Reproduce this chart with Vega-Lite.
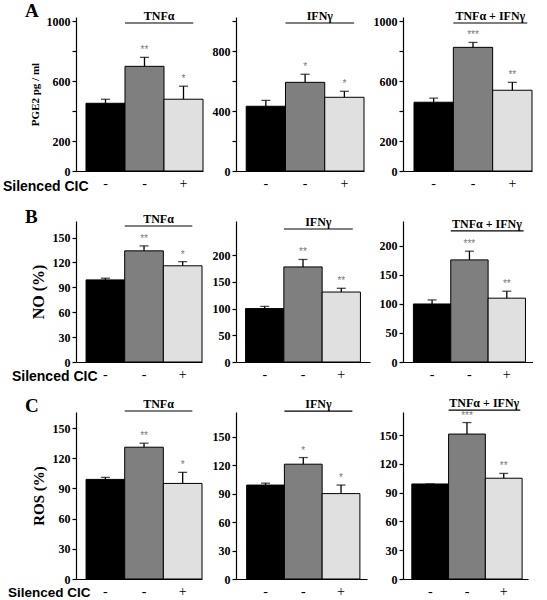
{
  "$schema": "https://vega.github.io/schema/vega-lite/v6.json",
  "padding": {"left": 2, "top": 2, "right": 0, "bottom": 0},
  "background": "white",
  "data": {"values": [
    {"panel": "A1", "cond": "ctrl", "value": 453, "upper": 480, "sig": "", "letter": "A"},
    {"panel": "A1", "cond": "cyt", "value": 700, "upper": 760, "sig": "**", "grp": "TNFα"},
    {"panel": "A1", "cond": "sil", "value": 480, "upper": 567, "sig": "*"},
    {"panel": "A2", "cond": "ctrl", "value": 433, "upper": 473, "sig": ""},
    {"panel": "A2", "cond": "cyt", "value": 593, "upper": 647, "sig": "*", "grp": "IFNγ"},
    {"panel": "A2", "cond": "sil", "value": 493, "upper": 533, "sig": "*"},
    {"panel": "A3", "cond": "ctrl", "value": 460, "upper": 487, "sig": ""},
    {"panel": "A3", "cond": "cyt", "value": 827, "upper": 860, "sig": "***", "grp": "TNFα + IFNγ"},
    {"panel": "A3", "cond": "sil", "value": 540, "upper": 593, "sig": "**"},
    {"panel": "B1", "cond": "ctrl", "value": 99, "upper": 101, "sig": "", "letter": "B"},
    {"panel": "B1", "cond": "cyt", "value": 134, "upper": 140, "sig": "**", "grp": "TNFα"},
    {"panel": "B1", "cond": "sil", "value": 116, "upper": 121, "sig": "*"},
    {"panel": "B2", "cond": "ctrl", "value": 100, "upper": 104, "sig": ""},
    {"panel": "B2", "cond": "cyt", "value": 178, "upper": 192, "sig": "**", "grp": "IFNγ"},
    {"panel": "B2", "cond": "sil", "value": 131, "upper": 138, "sig": "**"},
    {"panel": "B3", "cond": "ctrl", "value": 100, "upper": 107, "sig": ""},
    {"panel": "B3", "cond": "cyt", "value": 176, "upper": 191, "sig": "***", "grp": "TNFα + IFNγ"},
    {"panel": "B3", "cond": "sil", "value": 110, "upper": 122, "sig": "**"},
    {"panel": "C1", "cond": "ctrl", "value": 99, "upper": 101, "sig": "", "letter": "C"},
    {"panel": "C1", "cond": "cyt", "value": 131, "upper": 135, "sig": "**", "grp": "TNFα"},
    {"panel": "C1", "cond": "sil", "value": 95, "upper": 106, "sig": "*"},
    {"panel": "C2", "cond": "ctrl", "value": 99, "upper": 101, "sig": ""},
    {"panel": "C2", "cond": "cyt", "value": 121, "upper": 128, "sig": "*", "grp": "IFNγ"},
    {"panel": "C2", "cond": "sil", "value": 90, "upper": 99, "sig": "*"},
    {"panel": "C3", "cond": "ctrl", "value": 99, "upper": 99, "sig": ""},
    {"panel": "C3", "cond": "cyt", "value": 151, "upper": 163, "sig": "***", "grp": "TNFα + IFNγ"},
    {"panel": "C3", "cond": "sil", "value": 105, "upper": 110, "sig": "**"}
  ]},
  "bounds": "flush",
  "columns": 3,
  "spacing": {"row": 50, "column": 33},
  "concat": [
    {
      "width": 127, "height": 154,
      "transform": [{"filter": "datum.panel === 'A1'"}],
      "encoding": {"x": {"field": "cond", "type": "nominal", "sort": ["ctrl", "cyt", "sil"], "scale": {"paddingInner": 0, "paddingOuter": 0.128, "align": 1},
        "axis": {"labelExpr": "datum.value === 'sil' ? '+' : '-'", "title": "Silenced CIC", "titleFont": "Liberation Sans", "titleFontSize": 14, "titleFontWeight": "bold", "titleAlign": "right", "titleBaseline": "middle", "titleX": 12, "titleY": 15}}},
      "layer": [
        {"mark": {"type": "bar", "stroke": "black", "strokeWidth": 1},
         "encoding": {"y": {"field": "value", "type": "quantitative", "scale": {"domain": [0, 1030], "nice": false},
           "axis": {"values": [0, 200, 400, 600, 800, 1000], "format": "d", "tickCount": 10, "labelOverlap": false, "labelExpr": "datum.value == 400 || datum.value == 800 ? '' : datum.label", "title": "PGE2 pg / ml", "titleFontSize": 11}},
           "fill": {"field": "cond", "type": "nominal", "scale": {"domain": ["ctrl", "cyt", "sil"], "range": ["#000000", "#7f7f7f", "#e0e0e0"]}, "legend": null}}},
        {"mark": {"type": "rule", "strokeWidth": 1.3, "color": "black"}, "encoding": {"y": {"field": "value", "type": "quantitative"}, "y2": {"field": "upper"}}},
        {"mark": {"type": "tick", "thickness": 1.3, "size": 9, "color": "black", "orient": "horizontal"}, "encoding": {"y": {"field": "upper", "type": "quantitative"}}},
        {"mark": {"type": "text", "dy": -7, "fontSize": 10, "color": "#777777", "font": "Liberation Sans"}, "encoding": {"y": {"field": "upper", "type": "quantitative"}, "text": {"field": "sig"}}},
        {"transform": [{"filter": "datum.cond === 'cyt'"}], "mark": {"type": "rule", "strokeWidth": 1.2, "color": "black"},
         "encoding": {"x": {"field": "cond", "type": "nominal", "bandPosition": 0}, "x2": {"datum": "sil", "bandPosition": 0.75}, "y": {"datum": 990, "type": "quantitative"}}},
        {"transform": [{"filter": "datum.cond === 'cyt'"}], "mark": {"type": "text", "dy": -3, "font": "Liberation Serif", "fontWeight": "bold", "fontSize": 12, "baseline": "alphabetic"},
         "encoding": {"x": {"field": "cond", "type": "nominal", "bandPosition": 0.875}, "y": {"datum": 990, "type": "quantitative"}, "text": {"field": "grp"}}},
        {"transform": [{"filter": "datum.cond === 'ctrl'"}], "mark": {"type": "text", "dx": -61, "dy": 0, "align": "left", "baseline": "alphabetic", "font": "Liberation Serif", "fontWeight": "bold", "fontSize": 19},
         "encoding": {"x": {"field": "cond", "type": "nominal", "bandPosition": 0}, "y": {"datum": 1030, "type": "quantitative"}, "text": {"field": "letter"}}}
      ]
    },
    {
      "width": 128, "height": 154,
      "transform": [{"filter": "datum.panel === 'A2'"}],
      "encoding": {"x": {"field": "cond", "type": "nominal", "sort": ["ctrl", "cyt", "sil"], "scale": {"paddingInner": 0, "paddingOuter": 0.13, "align": 1},
        "axis": {"labelExpr": "datum.value === 'sil' ? '+' : '-'", "title": ""}}},
      "layer": [
        {"mark": {"type": "bar", "stroke": "black", "strokeWidth": 1},
         "encoding": {"y": {"field": "value", "type": "quantitative", "scale": {"domain": [0, 1030], "nice": false},
           "axis": {"values": [0, 200, 400, 600, 800, 1000], "format": "d", "tickCount": 10, "labelOverlap": false, "labelExpr": "datum.value % 400 == 0 ? datum.label : ''", "title": ""}},
           "fill": {"field": "cond", "type": "nominal", "scale": {"domain": ["ctrl", "cyt", "sil"], "range": ["#000000", "#7f7f7f", "#e0e0e0"]}, "legend": null}}},
        {"mark": {"type": "rule", "strokeWidth": 1.3, "color": "black"}, "encoding": {"y": {"field": "value", "type": "quantitative"}, "y2": {"field": "upper"}}},
        {"mark": {"type": "tick", "thickness": 1.3, "size": 9, "color": "black", "orient": "horizontal"}, "encoding": {"y": {"field": "upper", "type": "quantitative"}}},
        {"mark": {"type": "text", "dy": -7, "fontSize": 10, "color": "#777777", "font": "Liberation Sans"}, "encoding": {"y": {"field": "upper", "type": "quantitative"}, "text": {"field": "sig"}}},
        {"transform": [{"filter": "datum.cond === 'cyt'"}], "mark": {"type": "rule", "strokeWidth": 1.2, "color": "black"},
         "encoding": {"x": {"field": "cond", "type": "nominal", "bandPosition": 0}, "x2": {"datum": "sil", "bandPosition": 0.75}, "y": {"datum": 990, "type": "quantitative"}}},
        {"transform": [{"filter": "datum.cond === 'cyt'"}], "mark": {"type": "text", "dy": -3, "font": "Liberation Serif", "fontWeight": "bold", "fontSize": 12, "baseline": "alphabetic"},
         "encoding": {"x": {"field": "cond", "type": "nominal", "bandPosition": 0.875}, "y": {"datum": 990, "type": "quantitative"}, "text": {"field": "grp"}}}
      ]
    },
    {
      "width": 129, "height": 154,
      "transform": [{"filter": "datum.panel === 'A3'"}],
      "encoding": {"x": {"field": "cond", "type": "nominal", "sort": ["ctrl", "cyt", "sil"], "scale": {"paddingInner": 0, "paddingOuter": 0.14, "align": 1},
        "axis": {"labelExpr": "datum.value === 'sil' ? '+' : '-'", "title": ""}}},
      "layer": [
        {"mark": {"type": "bar", "stroke": "black", "strokeWidth": 1},
         "encoding": {"y": {"field": "value", "type": "quantitative", "scale": {"domain": [0, 1030], "nice": false},
           "axis": {"values": [0, 200, 400, 600, 800, 1000], "format": "d", "tickCount": 10, "labelOverlap": false, "labelExpr": "datum.value == 400 || datum.value == 800 ? '' : datum.label", "title": ""}},
           "fill": {"field": "cond", "type": "nominal", "scale": {"domain": ["ctrl", "cyt", "sil"], "range": ["#000000", "#7f7f7f", "#e0e0e0"]}, "legend": null}}},
        {"mark": {"type": "rule", "strokeWidth": 1.3, "color": "black"}, "encoding": {"y": {"field": "value", "type": "quantitative"}, "y2": {"field": "upper"}}},
        {"mark": {"type": "tick", "thickness": 1.3, "size": 9, "color": "black", "orient": "horizontal"}, "encoding": {"y": {"field": "upper", "type": "quantitative"}}},
        {"mark": {"type": "text", "dy": -7, "fontSize": 10, "color": "#777777", "font": "Liberation Sans"}, "encoding": {"y": {"field": "upper", "type": "quantitative"}, "text": {"field": "sig"}}},
        {"transform": [{"filter": "datum.cond === 'cyt'"}], "mark": {"type": "rule", "strokeWidth": 1.2, "color": "black"},
         "encoding": {"x": {"field": "cond", "type": "nominal", "bandPosition": 0}, "x2": {"datum": "sil", "bandPosition": 0.88}, "y": {"datum": 990, "type": "quantitative"}}},
        {"transform": [{"filter": "datum.cond === 'cyt'"}], "mark": {"type": "text", "dy": -3, "font": "Liberation Serif", "fontWeight": "bold", "fontSize": 12, "baseline": "alphabetic"},
         "encoding": {"x": {"field": "cond", "type": "nominal", "bandPosition": 0.94}, "y": {"datum": 990, "type": "quantitative"}, "text": {"field": "grp"}}}
      ]
    },
    {
      "width": 126, "height": 141,
      "transform": [{"filter": "datum.panel === 'B1'"}],
      "encoding": {"x": {"field": "cond", "type": "nominal", "sort": ["ctrl", "cyt", "sil"], "scale": {"paddingInner": 0, "paddingOuter": 0.13, "align": 1},
        "axis": {"labelExpr": "datum.value === 'sil' ? '+' : '-'", "title": "Silenced CIC", "titleFont": "Liberation Sans", "titleFontSize": 14, "titleFontWeight": "bold", "titleAlign": "right", "titleBaseline": "middle", "titleX": 21, "titleY": 14.5}}},
      "layer": [
        {"mark": {"type": "bar", "stroke": "black", "strokeWidth": 1},
         "encoding": {"y": {"field": "value", "type": "quantitative", "scale": {"domain": [0, 170], "nice": false},
           "axis": {"values": [0, 30, 60, 90, 120, 150], "tickCount": 10, "labelOverlap": false, "title": "NO (%)", "titleFontSize": 16}},
           "fill": {"field": "cond", "type": "nominal", "scale": {"domain": ["ctrl", "cyt", "sil"], "range": ["#000000", "#7f7f7f", "#e0e0e0"]}, "legend": null}}},
        {"mark": {"type": "rule", "strokeWidth": 1.3, "color": "black"}, "encoding": {"y": {"field": "value", "type": "quantitative"}, "y2": {"field": "upper"}}},
        {"mark": {"type": "tick", "thickness": 1.3, "size": 9, "color": "black", "orient": "horizontal"}, "encoding": {"y": {"field": "upper", "type": "quantitative"}}},
        {"mark": {"type": "text", "dy": -7, "fontSize": 10, "color": "#777777", "font": "Liberation Sans"}, "encoding": {"y": {"field": "upper", "type": "quantitative"}, "text": {"field": "sig"}}},
        {"transform": [{"filter": "datum.cond === 'cyt'"}], "mark": {"type": "rule", "strokeWidth": 1.2, "color": "black"},
         "encoding": {"x": {"field": "cond", "type": "nominal", "bandPosition": 0}, "x2": {"datum": "sil", "bandPosition": 0.75}, "y": {"datum": 164, "type": "quantitative"}}},
        {"transform": [{"filter": "datum.cond === 'cyt'"}], "mark": {"type": "text", "dy": -3, "font": "Liberation Serif", "fontWeight": "bold", "fontSize": 12, "baseline": "alphabetic"},
         "encoding": {"x": {"field": "cond", "type": "nominal", "bandPosition": 0.875}, "y": {"datum": 164, "type": "quantitative"}, "text": {"field": "grp"}}},
        {"transform": [{"filter": "datum.cond === 'ctrl'"}], "mark": {"type": "text", "dx": -61, "dy": 2, "align": "left", "baseline": "alphabetic", "font": "Liberation Serif", "fontWeight": "bold", "fontSize": 19},
         "encoding": {"x": {"field": "cond", "type": "nominal", "bandPosition": 0}, "y": {"datum": 170, "type": "quantitative"}, "text": {"field": "letter"}}}
      ]
    },
    {
      "width": 134, "height": 141,
      "transform": [{"filter": "datum.panel === 'B2'"}],
      "encoding": {"x": {"field": "cond", "type": "nominal", "sort": ["ctrl", "cyt", "sil"], "scale": {"paddingInner": 0, "paddingOuter": 0.25, "align": 0.5},
        "axis": {"labelExpr": "datum.value === 'sil' ? '+' : '-'", "title": ""}}},
      "layer": [
        {"mark": {"type": "bar", "stroke": "black", "strokeWidth": 1},
         "encoding": {"y": {"field": "value", "type": "quantitative", "scale": {"domain": [0, 264], "nice": false},
           "axis": {"values": [0, 50, 100, 150, 200], "tickCount": 10, "labelOverlap": false, "title": ""}},
           "fill": {"field": "cond", "type": "nominal", "scale": {"domain": ["ctrl", "cyt", "sil"], "range": ["#000000", "#7f7f7f", "#e0e0e0"]}, "legend": null}}},
        {"mark": {"type": "rule", "strokeWidth": 1.3, "color": "black"}, "encoding": {"y": {"field": "value", "type": "quantitative"}, "y2": {"field": "upper"}}},
        {"mark": {"type": "tick", "thickness": 1.3, "size": 9, "color": "black", "orient": "horizontal"}, "encoding": {"y": {"field": "upper", "type": "quantitative"}}},
        {"mark": {"type": "text", "dy": -7, "fontSize": 10, "color": "#777777", "font": "Liberation Sans"}, "encoding": {"y": {"field": "upper", "type": "quantitative"}, "text": {"field": "sig"}}},
        {"transform": [{"filter": "datum.cond === 'cyt'"}], "mark": {"type": "rule", "strokeWidth": 1.2, "color": "black"},
         "encoding": {"x": {"field": "cond", "type": "nominal", "bandPosition": 0}, "x2": {"datum": "sil", "bandPosition": 0.8}, "y": {"datum": 249, "type": "quantitative"}}},
        {"transform": [{"filter": "datum.cond === 'cyt'"}], "mark": {"type": "text", "dy": -3, "font": "Liberation Serif", "fontWeight": "bold", "fontSize": 12, "baseline": "alphabetic"},
         "encoding": {"x": {"field": "cond", "type": "nominal", "bandPosition": 0.9}, "y": {"datum": 249, "type": "quantitative"}, "text": {"field": "grp"}}}
      ]
    },
    {
      "width": 130, "height": 141,
      "transform": [{"filter": "datum.panel === 'B3'"}],
      "encoding": {"x": {"field": "cond", "type": "nominal", "sort": ["ctrl", "cyt", "sil"], "scale": {"paddingInner": 0, "paddingOuter": 0.24, "align": 0.58},
        "axis": {"labelExpr": "datum.value === 'sil' ? '+' : '-'", "title": ""}}},
      "layer": [
        {"mark": {"type": "bar", "stroke": "black", "strokeWidth": 1},
         "encoding": {"y": {"field": "value", "type": "quantitative", "scale": {"domain": [0, 243], "nice": false},
           "axis": {"values": [0, 50, 100, 150, 200], "tickCount": 10, "labelOverlap": false, "title": ""}},
           "fill": {"field": "cond", "type": "nominal", "scale": {"domain": ["ctrl", "cyt", "sil"], "range": ["#000000", "#7f7f7f", "#e0e0e0"]}, "legend": null}}},
        {"mark": {"type": "rule", "strokeWidth": 1.3, "color": "black"}, "encoding": {"y": {"field": "value", "type": "quantitative"}, "y2": {"field": "upper"}}},
        {"mark": {"type": "tick", "thickness": 1.3, "size": 9, "color": "black", "orient": "horizontal"}, "encoding": {"y": {"field": "upper", "type": "quantitative"}}},
        {"mark": {"type": "text", "dy": -7, "fontSize": 10, "color": "#777777", "font": "Liberation Sans"}, "encoding": {"y": {"field": "upper", "type": "quantitative"}, "text": {"field": "sig"}}},
        {"transform": [{"filter": "datum.cond === 'cyt'"}], "mark": {"type": "rule", "strokeWidth": 1.2, "color": "black"},
         "encoding": {"x": {"field": "cond", "type": "nominal", "bandPosition": 0}, "x2": {"datum": "sil", "bandPosition": 0.95}, "y": {"datum": 226, "type": "quantitative"}}},
        {"transform": [{"filter": "datum.cond === 'cyt'"}], "mark": {"type": "text", "dy": -3, "font": "Liberation Serif", "fontWeight": "bold", "fontSize": 12, "baseline": "alphabetic"},
         "encoding": {"x": {"field": "cond", "type": "nominal", "bandPosition": 0.97}, "y": {"datum": 226, "type": "quantitative"}, "text": {"field": "grp"}}}
      ]
    },
    {
      "width": 126, "height": 167,
      "transform": [{"filter": "datum.panel === 'C1'"}],
      "encoding": {"x": {"field": "cond", "type": "nominal", "sort": ["ctrl", "cyt", "sil"], "scale": {"paddingInner": 0, "paddingOuter": 0.13, "align": 1},
        "axis": {"labelExpr": "datum.value === 'sil' ? '+' : '-'", "title": "Silenced CIC", "titleFont": "Liberation Sans", "titleFontSize": 13.5, "titleFontWeight": "bold", "titleAlign": "right", "titleBaseline": "middle", "titleX": 14, "titleY": 13.5}}},
      "layer": [
        {"mark": {"type": "bar", "stroke": "black", "strokeWidth": 1},
         "encoding": {"y": {"field": "value", "type": "quantitative", "scale": {"domain": [0, 166], "nice": false},
           "axis": {"values": [0, 30, 60, 90, 120, 150], "tickCount": 10, "labelOverlap": false, "title": "ROS (%)", "titleFontSize": 15}},
           "fill": {"field": "cond", "type": "nominal", "scale": {"domain": ["ctrl", "cyt", "sil"], "range": ["#000000", "#7f7f7f", "#e0e0e0"]}, "legend": null}}},
        {"mark": {"type": "rule", "strokeWidth": 1.3, "color": "black"}, "encoding": {"y": {"field": "value", "type": "quantitative"}, "y2": {"field": "upper"}}},
        {"mark": {"type": "tick", "thickness": 1.3, "size": 9, "color": "black", "orient": "horizontal"}, "encoding": {"y": {"field": "upper", "type": "quantitative"}}},
        {"mark": {"type": "text", "dy": -7, "fontSize": 10, "color": "#777777", "font": "Liberation Sans"}, "encoding": {"y": {"field": "upper", "type": "quantitative"}, "text": {"field": "sig"}}},
        {"transform": [{"filter": "datum.cond === 'cyt'"}], "mark": {"type": "rule", "strokeWidth": 1.2, "color": "black"},
         "encoding": {"x": {"field": "cond", "type": "nominal", "bandPosition": 0}, "x2": {"datum": "sil", "bandPosition": 0.75}, "y": {"datum": 167, "type": "quantitative"}}},
        {"transform": [{"filter": "datum.cond === 'cyt'"}], "mark": {"type": "text", "dy": -3, "font": "Liberation Serif", "fontWeight": "bold", "fontSize": 12, "baseline": "alphabetic"},
         "encoding": {"x": {"field": "cond", "type": "nominal", "bandPosition": 0.875}, "y": {"datum": 167, "type": "quantitative"}, "text": {"field": "grp"}}},
        {"transform": [{"filter": "datum.cond === 'ctrl'"}], "mark": {"type": "text", "dx": -61, "dy": 0, "align": "left", "baseline": "alphabetic", "font": "Liberation Serif", "fontWeight": "bold", "fontSize": 19},
         "encoding": {"x": {"field": "cond", "type": "nominal", "bandPosition": 0}, "y": {"datum": 166, "type": "quantitative"}, "text": {"field": "letter"}}}
      ]
    },
    {
      "width": 131, "height": 167,
      "transform": [{"filter": "datum.panel === 'C2'"}],
      "encoding": {"x": {"field": "cond", "type": "nominal", "sort": ["ctrl", "cyt", "sil"], "scale": {"paddingInner": 0, "paddingOuter": 0.235, "align": 0.6},
        "axis": {"labelExpr": "datum.value === 'sil' ? '+' : '-'", "title": ""}}},
      "layer": [
        {"mark": {"type": "bar", "stroke": "black", "strokeWidth": 1},
         "encoding": {"y": {"field": "value", "type": "quantitative", "scale": {"domain": [0, 176], "nice": false},
           "axis": {"values": [0, 30, 60, 90, 120, 150], "tickCount": 10, "labelOverlap": false, "title": ""}},
           "fill": {"field": "cond", "type": "nominal", "scale": {"domain": ["ctrl", "cyt", "sil"], "range": ["#000000", "#7f7f7f", "#e0e0e0"]}, "legend": null}}},
        {"mark": {"type": "rule", "strokeWidth": 1.3, "color": "black"}, "encoding": {"y": {"field": "value", "type": "quantitative"}, "y2": {"field": "upper"}}},
        {"mark": {"type": "tick", "thickness": 1.3, "size": 9, "color": "black", "orient": "horizontal"}, "encoding": {"y": {"field": "upper", "type": "quantitative"}}},
        {"mark": {"type": "text", "dy": -7, "fontSize": 10, "color": "#777777", "font": "Liberation Sans"}, "encoding": {"y": {"field": "upper", "type": "quantitative"}, "text": {"field": "sig"}}},
        {"transform": [{"filter": "datum.cond === 'cyt'"}], "mark": {"type": "rule", "strokeWidth": 1.2, "color": "black"},
         "encoding": {"x": {"field": "cond", "type": "nominal", "bandPosition": 0}, "x2": {"datum": "sil", "bandPosition": 0.8}, "y": {"datum": 177, "type": "quantitative"}}},
        {"transform": [{"filter": "datum.cond === 'cyt'"}], "mark": {"type": "text", "dy": -3, "font": "Liberation Serif", "fontWeight": "bold", "fontSize": 12, "baseline": "alphabetic"},
         "encoding": {"x": {"field": "cond", "type": "nominal", "bandPosition": 0.9}, "y": {"datum": 177, "type": "quantitative"}, "text": {"field": "grp"}}}
      ]
    },
    {
      "width": 125, "height": 167,
      "transform": [{"filter": "datum.panel === 'C3'"}],
      "encoding": {"x": {"field": "cond", "type": "nominal", "sort": ["ctrl", "cyt", "sil"], "scale": {"paddingInner": 0, "paddingOuter": 0.2, "align": 0.6},
        "axis": {"labelExpr": "datum.value === 'sil' ? '+' : '-'", "title": ""}}},
      "layer": [
        {"mark": {"type": "bar", "stroke": "black", "strokeWidth": 1},
         "encoding": {"y": {"field": "value", "type": "quantitative", "scale": {"domain": [0, 174], "nice": false},
           "axis": {"values": [0, 30, 60, 90, 120, 150], "tickCount": 10, "labelOverlap": false, "title": ""}},
           "fill": {"field": "cond", "type": "nominal", "scale": {"domain": ["ctrl", "cyt", "sil"], "range": ["#000000", "#7f7f7f", "#e0e0e0"]}, "legend": null}}},
        {"mark": {"type": "rule", "strokeWidth": 1.3, "color": "black"}, "encoding": {"y": {"field": "value", "type": "quantitative"}, "y2": {"field": "upper"}}},
        {"mark": {"type": "tick", "thickness": 1.3, "size": 9, "color": "black", "orient": "horizontal"}, "encoding": {"y": {"field": "upper", "type": "quantitative"}}},
        {"mark": {"type": "text", "dy": -7, "fontSize": 10, "color": "#777777", "font": "Liberation Sans"}, "encoding": {"y": {"field": "upper", "type": "quantitative"}, "text": {"field": "sig"}}},
        {"transform": [{"filter": "datum.cond === 'cyt'"}], "mark": {"type": "rule", "strokeWidth": 1.2, "color": "black"},
         "encoding": {"x": {"field": "cond", "type": "nominal", "bandPosition": 0}, "x2": {"datum": "sil", "bandPosition": 0.95}, "y": {"datum": 176, "type": "quantitative"}}},
        {"transform": [{"filter": "datum.cond === 'cyt'"}], "mark": {"type": "text", "dy": -3, "font": "Liberation Serif", "fontWeight": "bold", "fontSize": 12, "baseline": "alphabetic"},
         "encoding": {"x": {"field": "cond", "type": "nominal", "bandPosition": 0.97}, "y": {"datum": 176, "type": "quantitative"}, "text": {"field": "grp"}}}
      ]
    }
  ],
  "config": {
    "view": {"stroke": null},
    "axis": {"grid": false, "labelOverlap": false, "domainColor": "black", "tickColor": "black", "labelColor": "black", "titleColor": "black", "labelFont": "Liberation Serif", "titleFont": "Liberation Serif", "labelFontWeight": "bold", "titleFontWeight": "bold", "domainWidth": 1.2},
    "axisY": {"tickSize": 4, "labelFontSize": 12, "labelPadding": 2, "titlePadding": 6, "tickWidth": 1.2},
    "axisX": {"ticks": false, "labelFontSize": 14, "labelFontWeight": "normal", "labelAngle": 0, "labelPadding": 5}
  }
}
